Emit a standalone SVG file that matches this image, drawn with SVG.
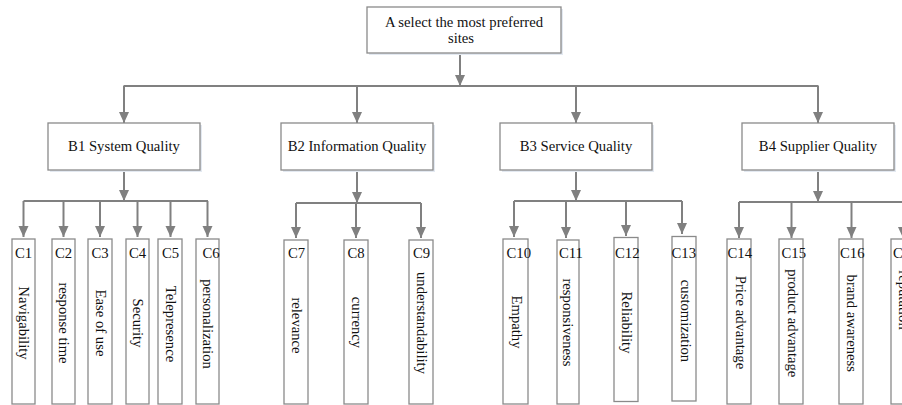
<svg xmlns="http://www.w3.org/2000/svg" width="902" height="405" viewBox="0 0 902 405">
<style>
.box{fill:#ffffff;stroke:#8a8a8a;stroke-width:1.3}
.sh{fill:#e3e9f1;stroke:none}
.t{font-family:"Liberation Serif","Times New Roman",serif;font-size:14.7px;fill:#111}
.m{text-anchor:middle}
.con{fill:none;stroke:#808080;stroke-width:2}
.arr{fill:none;stroke:#808080;stroke-width:2;marker-end:url(#ah)}
</style>
<defs>
<marker id="ah" markerUnits="userSpaceOnUse" markerWidth="12" markerHeight="12" viewBox="0 0 12 12" refX="11" refY="6" orient="auto">
<path d="M0,1 L11,6 L0,11 Z" fill="#808080"/>
</marker>
</defs>
<rect width="902" height="405" fill="#ffffff"/>

<g id="connectors">
<path class="arr" d="M460,53 V86"/>
<path class="con" d="M123.5,86 H818.5"/>
<path class="arr" d="M124,86 V123"/>
<path class="arr" d="M357,86 V123"/>
<path class="arr" d="M576,86 V123"/>
<path class="arr" d="M818,86 V123"/>

<path class="arr" d="M124,170 V201"/>
<path class="con" d="M23.5,201 H208"/>
<path class="arr" d="M23.5,201 V237"/>
<path class="arr" d="M63.5,201 V237"/>
<path class="arr" d="M100,201 V237"/>
<path class="arr" d="M137.5,201 V237"/>
<path class="arr" d="M170.5,201 V237"/>
<path class="arr" d="M207.5,201 V237"/>

<path class="arr" d="M357,170 V203"/>
<path class="con" d="M296,203 H421"/>
<path class="arr" d="M296,203 V238"/>
<path class="arr" d="M356,203 V238"/>
<path class="arr" d="M421,203 V238"/>

<path class="arr" d="M576,170 V201"/>
<path class="con" d="M514,201 H682"/>
<path class="arr" d="M514,201 V237"/>
<path class="arr" d="M566,201 V238"/>
<path class="arr" d="M626,201 V236"/>
<path class="arr" d="M682,201 V234"/>

<path class="arr" d="M818,170 V202"/>
<path class="con" d="M739,202 H910"/>
<path class="arr" d="M739,202 V238"/>
<path class="arr" d="M791.5,202 V238"/>
<path class="arr" d="M851.5,202 V238"/>
<path class="arr" d="M903,202 V238"/>
</g>

<g id="A">
<rect class="sh" x="369" y="9" width="194" height="46"/>
<rect class="box" x="367" y="7" width="194" height="46"/>
<text class="t m" x="464" y="27">A select the most preferred</text>
<text class="t m" x="461" y="43">sites</text>
</g>

<g id="B1">
<rect class="sh" x="50" y="125" width="152" height="47"/>
<rect class="box" x="48" y="123" width="152" height="47"/>
<text class="t m" x="124" y="151">B1 System Quality</text>
</g>
<g id="B2">
<rect class="sh" x="283" y="125" width="152" height="47"/>
<rect class="box" x="281" y="123" width="152" height="47"/>
<text class="t m" x="357" y="151">B2 Information Quality</text>
</g>
<g id="B3">
<rect class="sh" x="502" y="125" width="152" height="47"/>
<rect class="box" x="500" y="123" width="152" height="47"/>
<text class="t m" x="576" y="151">B3 Service Quality</text>
</g>
<g id="B4">
<rect class="sh" x="744" y="125" width="152" height="47"/>
<rect class="box" x="742" y="123" width="152" height="47"/>
<text class="t m" x="818" y="151">B4 Supplier Quality</text>
</g>

<g id="C1"><rect class="box" x="12" y="239" width="23" height="165"/><text class="t" x="15" y="258">C1</text><text class="t m" transform="translate(23.5,323) rotate(90)" y="4.5">Navigability</text></g>
<g id="C2"><rect class="box" x="52" y="239" width="23" height="165"/><text class="t" x="55" y="258">C2</text><text class="t m" transform="translate(63.5,323) rotate(90)" y="4.5">response time</text></g>
<g id="C3"><rect class="box" x="88" y="239" width="24" height="165"/><text class="t" x="91.5" y="258">C3</text><text class="t m" transform="translate(100,323) rotate(90)" y="4.5">Ease of use</text></g>
<g id="C4"><rect class="box" x="126" y="239" width="23" height="165"/><text class="t" x="129" y="258">C4</text><text class="t m" transform="translate(137.5,323) rotate(90)" y="4.5">Security</text></g>
<g id="C5"><rect class="box" x="158" y="239" width="24" height="165"/><text class="t" x="162" y="258">C5</text><text class="t m" transform="translate(170,324) rotate(90)" y="4.5">Telepresence</text></g>
<g id="C6"><rect class="box" x="196" y="239" width="23" height="165"/><text class="t" x="202.5" y="258">C6</text><text class="t m" transform="translate(207.5,324) rotate(90)" y="4.5">personalization</text></g>

<g id="C7"><rect class="box" x="284" y="240" width="24" height="164"/><text class="t" x="288" y="258">C7</text><text class="t m" transform="translate(296,325.5) rotate(90)" y="4.5">relevance</text></g>
<g id="C8"><rect class="box" x="344" y="240" width="24" height="164"/><text class="t" x="347.5" y="258">C8</text><text class="t m" transform="translate(356,322.5) rotate(90)" y="4.5">currency</text></g>
<g id="C9"><rect class="box" x="409" y="240" width="24" height="164"/><text class="t" x="413" y="258">C9</text><text class="t m" transform="translate(421,323) rotate(90)" y="4.5">understandability</text></g>

<g id="C10"><rect class="box" x="503" y="239" width="25" height="165"/><text class="t" x="506.5" y="258">C10</text><text class="t m" transform="translate(516.5,322) rotate(90)" y="4.5">Empathy</text></g>
<g id="C11"><rect class="box" x="557" y="240" width="22" height="164"/><text class="t" x="559" y="258">C11</text><text class="t m" transform="translate(567.5,322.5) rotate(90)" y="4.5">responsiveness</text></g>
<g id="C12"><rect class="box" x="614" y="237.5" width="24" height="164"/><text class="t" x="615" y="258">C12</text><text class="t m" transform="translate(626.5,322.5) rotate(90)" y="4.5">Reliability</text></g>
<g id="C13"><rect class="box" x="672" y="236.5" width="24" height="164.5"/><text class="t" x="671.5" y="258">C13</text><text class="t m" transform="translate(685,321) rotate(90)" y="4.5">customization</text></g>

<g id="C14"><rect class="box" x="727" y="239" width="24" height="165"/><text class="t" x="727.5" y="258">C14</text><text class="t m" transform="translate(740,322.5) rotate(90)" y="4.5">Price advantage</text></g>
<g id="C15"><rect class="box" x="779" y="239" width="24" height="165"/><text class="t" x="781.5" y="258">C15</text><text class="t m" transform="translate(792.5,323.3) rotate(90)" y="4.5">product advantage</text></g>
<g id="C16"><rect class="box" x="839" y="239" width="24" height="165"/><text class="t" x="840" y="258">C16</text><text class="t m" transform="translate(851.5,323.3) rotate(90)" y="4.5">brand awareness</text></g>
<g id="C17"><rect class="box" x="891" y="239" width="24" height="165"/><text class="t" x="893" y="258">C17</text><text class="t m" transform="translate(903,300) rotate(90)" y="4.5">reputation</text></g>
</svg>
